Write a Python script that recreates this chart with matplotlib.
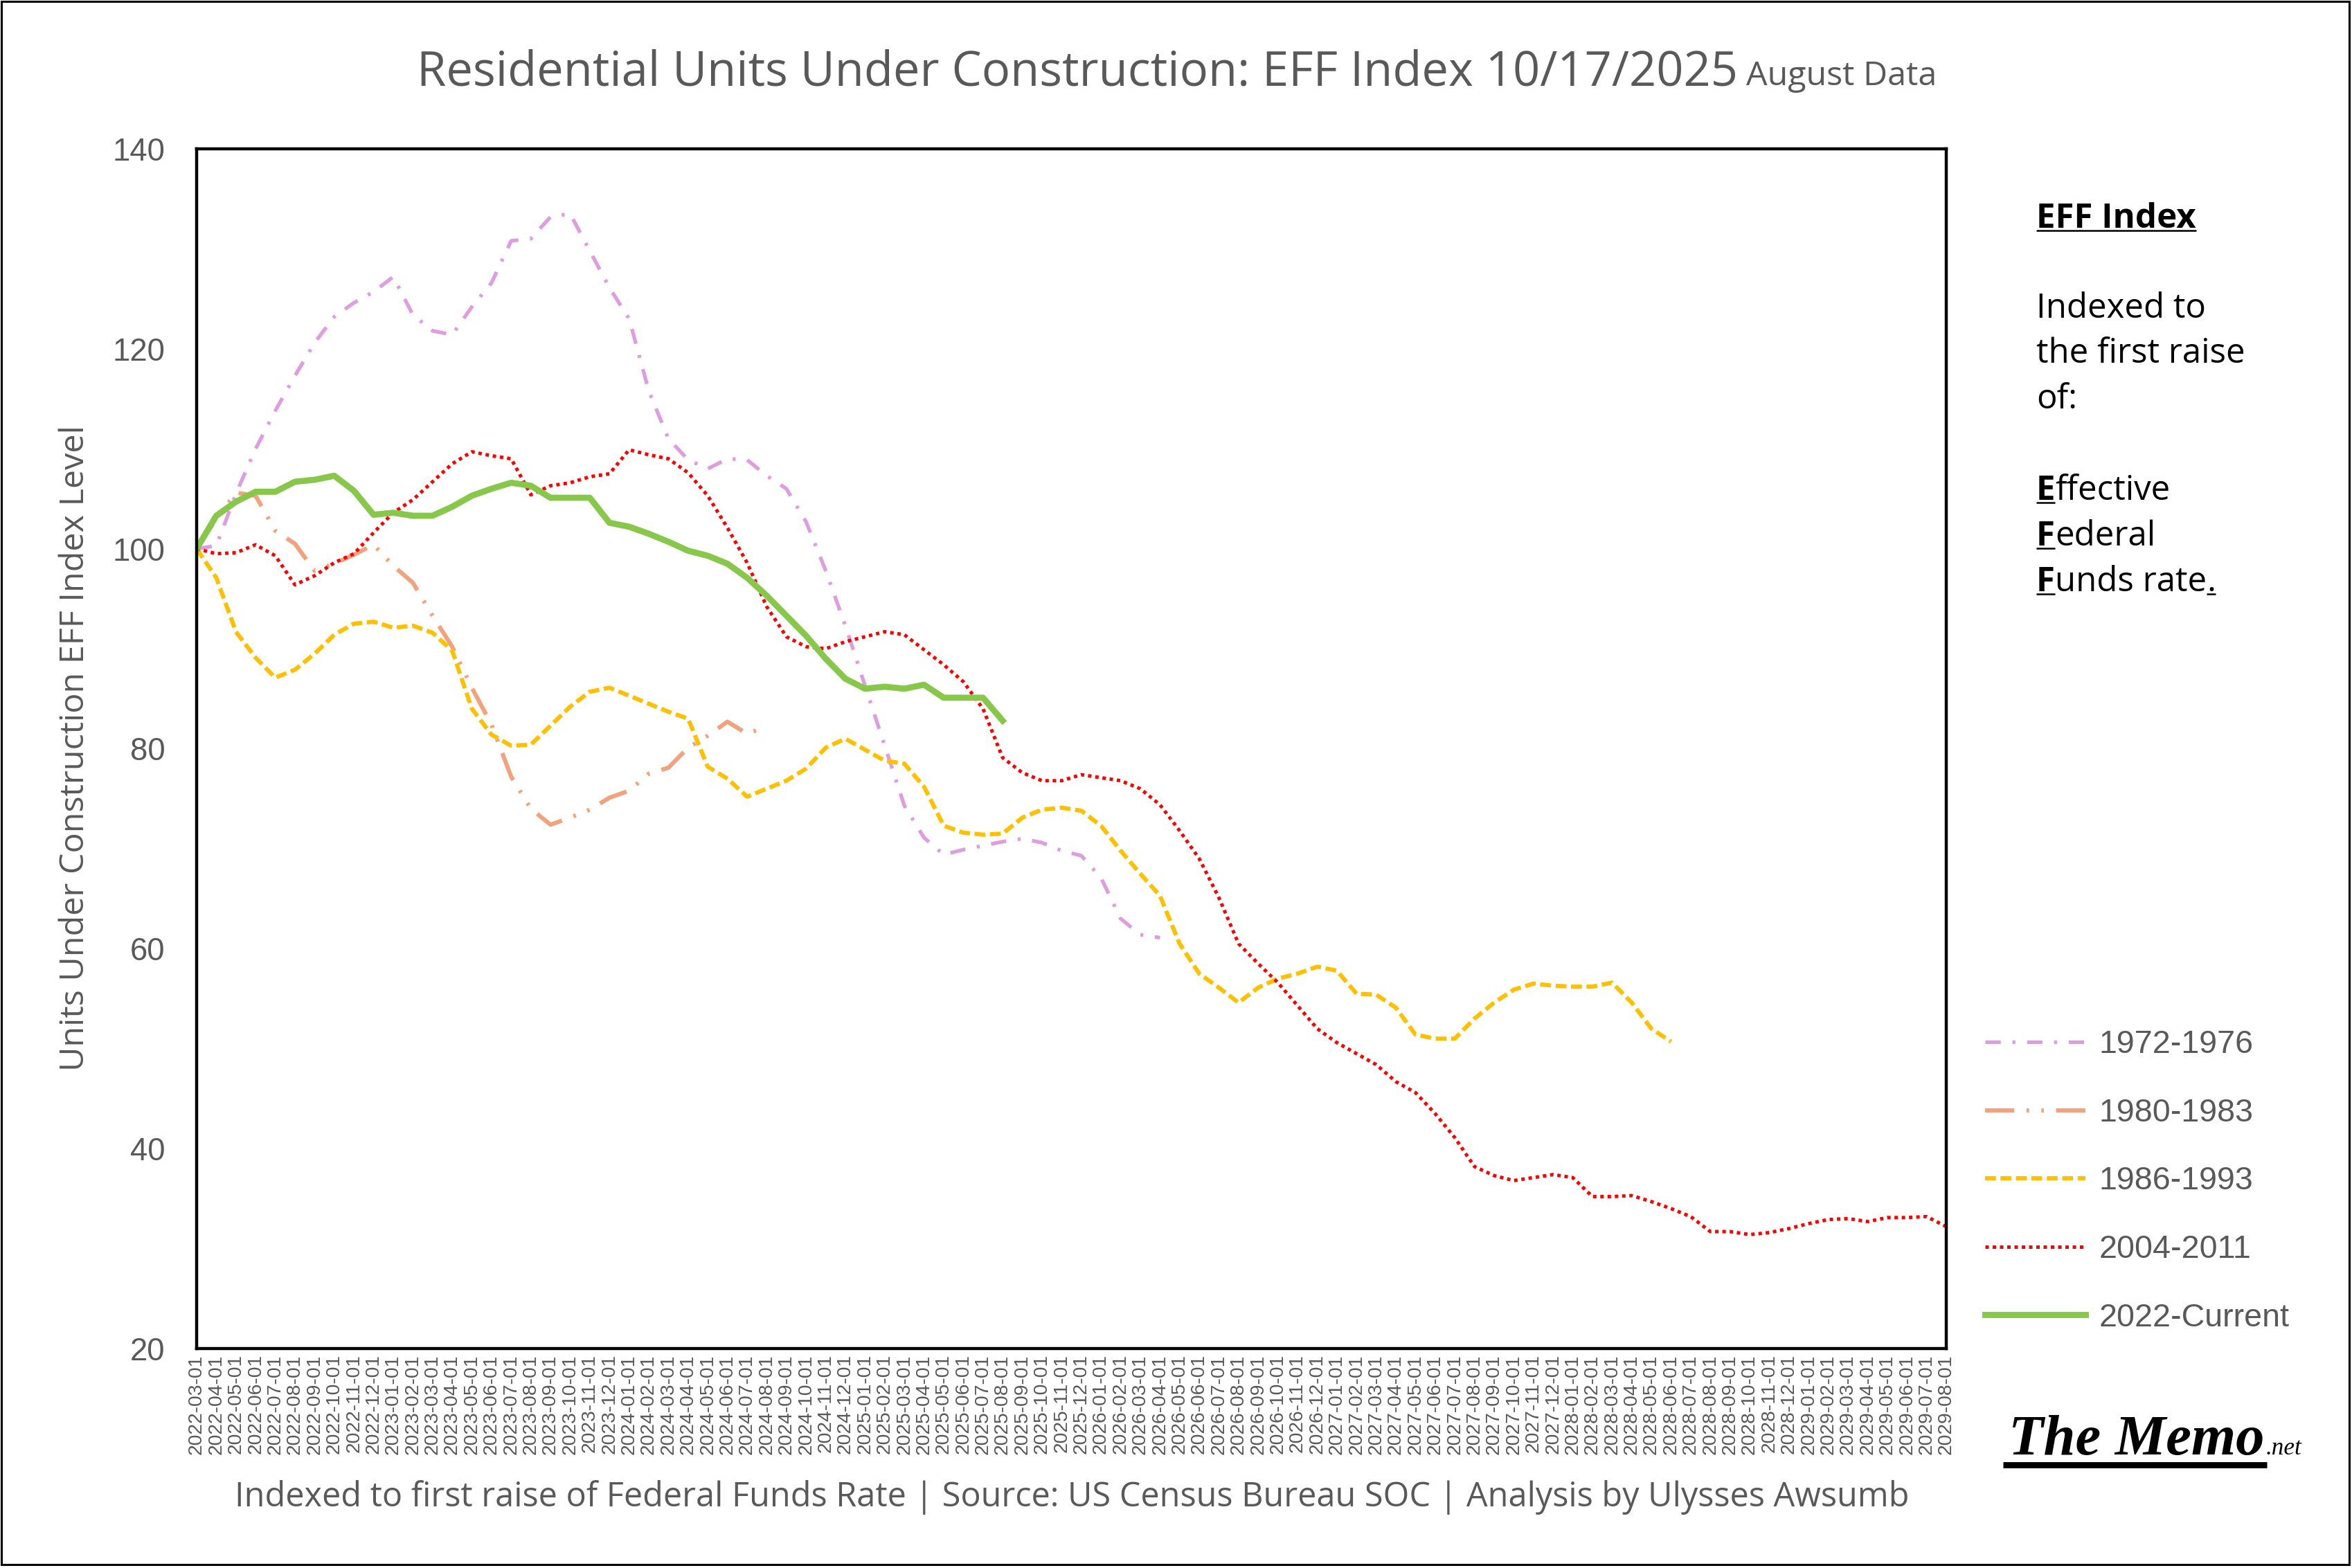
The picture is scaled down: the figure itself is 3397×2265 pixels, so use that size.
import matplotlib
matplotlib.use('Agg')
import matplotlib.pyplot as plt
from matplotlib.lines import Line2D
from matplotlib.patches import Rectangle
import pandas as pd

# x axis: one category per month after the first raise
months = pd.date_range('2022-03-01', '2029-08-01', freq='MS').strftime('%Y-%m-%d').tolist()

# index levels (first raise = 100)
idx_1972_1976 = [100.0, 100.3, 105.5, 110.0, 113.8, 117.3, 120.6, 123.2, 124.6, 125.7,
                 127.2, 123.4, 121.8, 121.4, 124.2, 126.6, 130.8, 131.0, 133.2, 133.5,
                 129.8, 126.1, 123.0, 115.8, 111.0, 108.9, 108.0, 109.0, 108.9, 107.3,
                 106.0, 102.7, 97.8, 92.3, 86.3, 80.3, 74.3, 71.1, 69.4, 69.9,
                 70.3, 70.7, 71.0, 70.6, 69.8, 69.3, 67.1, 63.0, 61.4, 61.1]
idx_1980_1983 = [100.0, 103.0, 105.6, 105.3, 101.8, 100.5, 97.8, 98.5, 99.4, 100.4,
                 98.3, 96.6, 93.3, 90.2, 86.1, 82.4, 77.2, 74.0, 72.4, 73.1,
                 73.9, 75.1, 75.8, 77.5, 78.1, 80.1, 81.3, 82.7, 81.5, 82.2]
idx_1986_1993 = [100.0, 97.1, 91.7, 89.1, 87.1, 87.9, 89.5, 91.4, 92.5, 92.7,
                 92.1, 92.3, 91.6, 89.8, 84.0, 81.4, 80.3, 80.4, 82.3, 84.2,
                 85.7, 86.1, 85.3, 84.5, 83.7, 83.0, 78.2, 77.0, 75.2, 76.0,
                 76.8, 78.0, 80.1, 81.0, 79.9, 78.8, 78.5, 76.2, 72.3, 71.6,
                 71.4, 71.5, 73.1, 73.9, 74.1, 73.8, 72.3, 69.8, 67.5, 65.3,
                 60.5, 57.5, 56.1, 54.6, 56.1, 57.0, 57.5, 58.2, 57.8, 55.5,
                 55.4, 54.1, 51.4, 51.0, 51.0, 53.0, 54.6, 55.9, 56.5, 56.3,
                 56.2, 56.2, 56.6, 54.6, 52.0, 50.7]
idx_2004_2011 = [100.0, 99.5, 99.6, 100.4, 99.3, 96.4, 97.3, 98.6, 99.5, 101.6,
                 103.6, 104.9, 106.7, 108.5, 109.7, 109.3, 109.0, 105.4, 106.3, 106.6,
                 107.2, 107.5, 109.9, 109.4, 109.0, 107.6, 105.3, 102.1, 98.6, 94.2,
                 91.2, 90.2, 90.0, 90.7, 91.2, 91.7, 91.4, 89.9, 88.4, 86.7,
                 84.0, 79.1, 77.6, 76.8, 76.8, 77.4, 77.1, 76.8, 76.0, 74.4,
                 71.8, 69.0, 65.1, 60.5, 58.5, 56.6, 54.3, 52.0, 50.6, 49.5,
                 48.4, 46.7, 45.6, 43.5, 41.1, 38.2, 37.3, 36.8, 37.1, 37.4,
                 37.1, 35.2, 35.2, 35.3, 34.7, 34.0, 33.2, 31.7, 31.7, 31.4,
                 31.6, 32.0, 32.5, 32.9, 33.0, 32.7, 33.1, 33.1, 33.2, 32.2]
idx_2022_now = [100.0, 103.3, 104.7, 105.7, 105.7, 106.7, 106.9, 107.3, 105.8, 103.4,
                103.6, 103.3, 103.3, 104.2, 105.3, 106.0, 106.6, 106.3, 105.1, 105.1,
                105.1, 102.6, 102.2, 101.5, 100.7, 99.8, 99.3, 98.5, 97.1, 95.3,
                93.3, 91.3, 89.0, 87.0, 86.0, 86.2, 86.0, 86.4, 85.1, 85.1,
                85.1, 82.8]

cycle_names = ['1972-1976', '1980-1983', '1986-1993', '2004-2011', '2022-Current']
y_ticks = [20, 40, 60, 80, 100, 120, 140]

GRAY = '#595959'
SANS = 'Liberation Sans'
TXT = 'Open Sans'

W, H, DPI = 3398, 2265, 200
fig = plt.figure(figsize=(W / DPI, H / DPI), dpi=DPI)
fig.patch.set_facecolor('white')
ax = fig.add_axes([284 / W, 1 - 1948 / H, (2811 - 284) / W, (1948 - 215) / H])

styles = [
    dict(color='#DF9CE0', lw=1.9, ls=(0, (4.2, 3.2, 0.8, 3.2))),
    dict(color='#F2A27C', lw=2.2, ls=(0, (6.9, 2.9, 0.6, 2.9, 0.6, 2.9))),
    dict(color='#FFC000', lw=2.2, ls=(0, (2.55, 1.1))),
    dict(color='#FF0000', lw=1.8, ls=(0, (1.0, 1.1))),
    dict(color='#87C84B', lw=3.2, ls='-'),
]
all_series = [idx_1972_1976, idx_1980_1983, idx_1986_1993, idx_2004_2011, idx_2022_now]

lines = []
for name, vals, st in zip(cycle_names, all_series, styles):
    ln, = ax.plot(range(len(vals)), vals, color=st['color'], lw=st['lw'],
                  linestyle=st['ls'], label=name, dash_capstyle='butt',
                  solid_joinstyle='round')
    lines.append(ln)

ax.set_xlim(0, len(months) - 1)
ax.set_ylim(20, 140)
ax.set_yticks(y_ticks)
ax.set_xticks(range(len(months)))
ax.set_xticklabels(months, rotation=90, fontsize=10.2, family=SANS, color=GRAY)
for lab in ax.get_yticklabels():
    lab.set_fontsize(16.4)
    lab.set_family(SANS)
    lab.set_color(GRAY)
ax.tick_params(axis='y', length=0, pad=16.5)
ax.tick_params(axis='x', length=0, pad=3)
for sp in ax.spines.values():
    sp.set_linewidth(1.6)
    sp.set_color('black')

fig.canvas.draw()
renderer = fig.canvas.get_renderer()


def fit(t, target, vertical=False):
    bb = t.get_window_extent(renderer)
    size = bb.height if vertical else bb.width
    t.set_fontsize(t.get_fontsize() * target / size)


# title
title = fig.text(602 / W, 1 - 123 / H, 'Residential Units Under Construction: EFF Index 10/17/2025',
                 family=TXT, fontsize=24, color=GRAY, ha='left', va='baseline')
fit(title, 1907)
tb = title.get_window_extent(renderer)
sub = fig.text((tb.x1 + 12) / W, 1 - 123 / H, 'August Data', family=TXT, fontsize=14,
               color=GRAY, ha='left', va='baseline')
fit(sub, 275)

# y label and footer
ylab = fig.text(108 / W, 1 - 1081 / H, 'Units Under Construction EFF Index Level', family=TXT,
                fontsize=16, color=GRAY, rotation=90, ha='center', va='center')
fit(ylab, 932, vertical=True)
foot = fig.text(1548 / W, 1 - 2176 / H,
                'Indexed to first raise of Federal Funds Rate | Source: US Census Bureau SOC | Analysis by Ulysses Awsumb',
                family=TXT, fontsize=16, color=GRAY, ha='center', va='baseline')
fit(foot, 2420)


def underline(bb, base_px, lw=0.9, off=4):
    y = (base_px - off) / H
    fig.add_artist(Line2D([bb.x0 / W, bb.x1 / W], [y, y], transform=fig.transFigure,
                          color='black', lw=lw, solid_capstyle='butt'))


# side note
probe = fig.text(0, 0, 'the first raise', family=TXT, fontsize=16)
fit(probe, 302)
side_fs = probe.get_fontsize()
probe.remove()

side_lines = [
    (329, [('EFF Index', True, True)]),
    (459, [('Indexed to', False, False)]),
    (524, [('the first raise', False, False)]),
    (590, [('of:', False, False)]),
    (722, [('E', True, True), ('ffective', False, False)]),
    (788, [('F', True, True), ('ederal', False, False)]),
    (854, [('F', True, True), ('unds rate', False, False), ('.', False, True)]),
]
for ytop, parts in side_lines:
    base = H - ytop
    x = 2941
    for s, bold, ul in parts:
        t = fig.text(x / W, base / H, s, family=TXT, fontsize=side_fs, color='black',
                     fontweight='bold' if bold else 'normal', ha='left', va='baseline')
        bb = t.get_window_extent(renderer)
        if ul:
            underline(bb, base)
        x = bb.x1

# legend
leg_fs = 16.8
px_fs = leg_fs * DPI / 72
leg = fig.legend(handles=lines, labels=cycle_names, loc='center left',
                 bbox_to_anchor=(2867 / W, 1 - (1510 + 1903) / 2 / H), frameon=False,
                 prop={'family': SANS, 'size': leg_fs}, handlelength=145 / px_fs,
                 handletextpad=19.5 / px_fs, labelspacing=1.17, borderpad=0, borderaxespad=0)
for t in leg.get_texts():
    t.set_color(GRAY)

# logo
memo = fig.text(2901 / W, 1 - 2101 / H, 'The Memo', family='Liberation Serif', style='italic',
                fontweight='bold', fontsize=34, color='black', ha='left', va='baseline')
fit(memo, 370)
mb = memo.get_window_extent(renderer)
net = fig.text((mb.x1 + 2) / W, 1 - 2101 / H, '.net', family='Liberation Serif', style='italic',
               fontsize=12, color='black', ha='left', va='baseline')
fit(net, 52)
fig.add_artist(Line2D([2893 / W, 3274 / W], [1 - 2116 / H, 1 - 2116 / H], transform=fig.transFigure,
                      color='black', lw=3.2, solid_capstyle='butt'))

# outer frame
fig.add_artist(Rectangle((2 / W, 5 / H), 3391 / W, 2258 / H, transform=fig.transFigure,
                         fill=False, ec='black', lw=1.1))

fig.savefig('out.png', dpi=DPI)
